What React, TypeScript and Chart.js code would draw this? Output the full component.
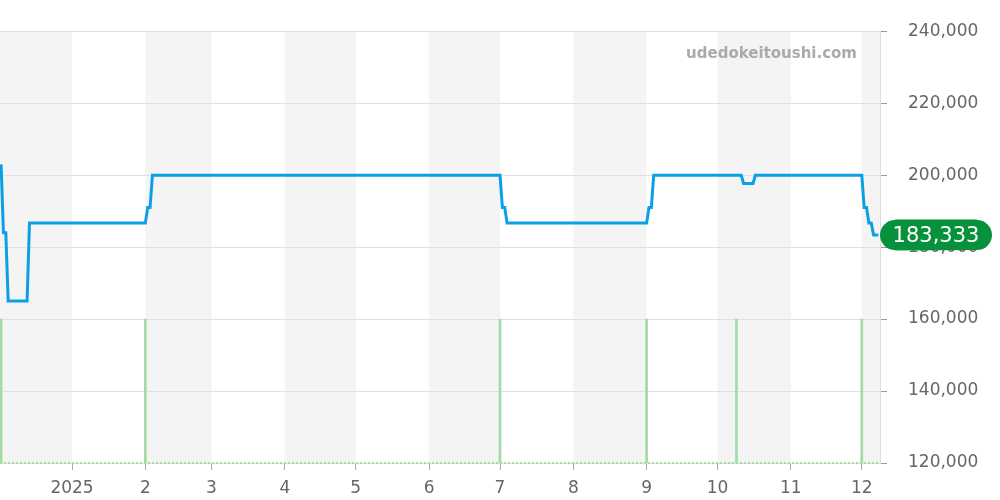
import React, { useEffect, useRef } from "react";
import { Chart, registerables } from "chart.js";

Chart.register(...registerables);

// ---- data ----
const priceDates = [
  "2024-12-02", "2024-12-03", "2024-12-04", "2024-12-05", "2024-12-13", "2024-12-14",
  "2025-02-01", "2025-02-02", "2025-02-03", "2025-02-04",
  "2025-07-01", "2025-07-02", "2025-07-03", "2025-07-04",
  "2025-09-01", "2025-09-02", "2025-09-03", "2025-09-04",
  "2025-10-11", "2025-10-12", "2025-10-16", "2025-10-17",
  "2025-12-01", "2025-12-02", "2025-12-03", "2025-12-04", "2025-12-05", "2025-12-06", "2025-12-08",
];
const priceValues = [
  203000, 184000, 184000, 165000, 165000, 186667,
  186667, 191000, 191000, 200000,
  200000, 191000, 191000, 186667,
  186667, 191000, 191000, 200000,
  200000, 197667, 197667, 200000,
  200000, 191000, 191000, 186667, 186667, 183333, 183333,
];
const volumeDates = ["2024-12-02", "2025-02-01", "2025-07-01", "2025-09-01", "2025-10-09", "2025-12-01"];
const volumeValues = [1, 1, 1, 1, 1, 1];

const monthStartDates = [
  "2025-01-01", "2025-02-01", "2025-03-01", "2025-04-01", "2025-05-01", "2025-06-01",
  "2025-07-01", "2025-08-01", "2025-09-01", "2025-10-01", "2025-11-01", "2025-12-01",
];
const monthLabels = ["2025", "2", "3", "4", "5", "6", "7", "8", "9", "10", "11", "12"];
const bandStartDates = ["2024-12-01", "2025-02-01", "2025-04-01", "2025-06-01", "2025-08-01", "2025-10-01", "2025-12-01"];
const bandEndDates = ["2025-01-01", "2025-03-01", "2025-05-01", "2025-07-01", "2025-09-01", "2025-11-01", "2026-01-01"];
const yTicks = [120000, 140000, 160000, 180000, 200000, 220000, 240000];
const rangeStart = "2024-12-01T13:00:00";
const rangeEnd = "2025-12-08T16:48:00";
const watermark = "udedokeitoushi.com";

const EPOCH = Date.UTC(2025, 0, 1);
const toDay = (s: string) => {
  const [d, t] = s.split("T");
  const [y, m, dd] = d.split("-").map(Number);
  let ms = Date.UTC(y, m - 1, dd);
  if (t) {
    const [hh, mm] = t.split(":").map(Number);
    ms += (hh * 60 + mm) * 60000;
  }
  return (ms - EPOCH) / 86400000;
};

const FONT = "'DejaVu Sans', sans-serif";

export default function App() {
  const ref = useRef<HTMLCanvasElement | null>(null);

  useEffect(() => {
    if (!ref.current) return;
    const xMin = toDay(rangeStart);
    const xMax = toDay(rangeEnd);
    const monthTicks = monthStartDates.map(toDay);
    const lastValue = priceValues[priceValues.length - 1];

    const bandsPlugin = {
      id: "bands",
      beforeDraw(chart: any) {
        const { ctx, chartArea, scales } = chart;
        const x = scales.x;
        ctx.save();
        ctx.fillStyle = "#f4f4f4";
        bandStartDates.forEach((s, i) => {
          const a = Math.max(x.getPixelForValue(toDay(s)), chartArea.left);
          const b = Math.min(x.getPixelForValue(toDay(bandEndDates[i])), chartArea.right);
          if (b > a) ctx.fillRect(a, chartArea.top, b - a, chartArea.bottom - chartArea.top);
        });
        ctx.restore();
      },
      beforeDatasetsDraw(chart: any) {
        const { ctx, chartArea } = chart;
        ctx.save();
        ctx.font = `bold 15px ${FONT}`;
        ctx.fillStyle = "#aaaaaa";
        ctx.textAlign = "right";
        ctx.textBaseline = "middle";
        ctx.fillText(watermark, chartArea.right - 23, chartArea.top + 23);
        ctx.restore();
      },
      afterDraw(chart: any) {
        const { ctx, chartArea, scales } = chart;
        const y = scales.y.getPixelForValue(lastValue);
        const left = chartArea.right;
        const w = 112;
        const h = 31;
        const r = 15;
        ctx.save();
        ctx.fillStyle = "#08913d";
        ctx.beginPath();
        ctx.moveTo(left + r, y - h / 2);
        ctx.lineTo(left + w - r, y - h / 2);
        ctx.arc(left + w - r, y, r, -Math.PI / 2, Math.PI / 2);
        ctx.lineTo(left + r, y + h / 2);
        ctx.arc(left + r, y, r, Math.PI / 2, Math.PI * 1.5);
        ctx.closePath();
        ctx.fill();
        ctx.fillStyle = "#ffffff";
        ctx.font = `21px ${FONT}`;
        ctx.textAlign = "center";
        ctx.textBaseline = "middle";
        ctx.fillText(lastValue.toLocaleString("en-US"), left + w / 2, y + 1);
        ctx.restore();
      },
    };

    const chart = new Chart(ref.current, {
      type: "line",
      data: {
        datasets: [
          {
            type: "line",
            data: priceDates.map((d, i) => ({ x: toDay(d), y: priceValues[i] })),
            borderColor: "#0ba0e5",
            borderWidth: 3,
            pointRadius: 0,
            tension: 0,
            yAxisID: "y",
            order: 0,
          } as any,
          {
            type: "bar",
            data: volumeDates.map((d, i) => ({ x: toDay(d), y: volumeValues[i] })),
            backgroundColor: "#a3dba3",
            barThickness: 2,
            yAxisID: "y2",
            order: 1,
          } as any,
          {
            type: "line",
            data: [
              { x: xMin, y: 0 },
              { x: xMax, y: 0 },
            ],
            borderColor: "#a3dba3",
            borderWidth: 2,
            borderDash: [2, 2],
            pointRadius: 0,
            yAxisID: "y2",
            clip: false,
            order: 2,
          } as any,
        ],
      },
      options: {
        animation: false,
        responsive: true,
        maintainAspectRatio: false,
        layout: { padding: { top: 30, left: 0, right: 0, bottom: 0 } },
        plugins: { legend: { display: false }, tooltip: { enabled: false } },
        scales: {
          x: {
            type: "linear",
            min: xMin,
            max: xMax,
            offset: false,
            afterBuildTicks: (scale: any) => {
              scale.ticks = monthTicks.map((v) => ({ value: v }));
            },
            afterFit: (scale: any) => {
              scale.height = 37;
            },
            ticks: {
              autoSkip: false,
              maxRotation: 0,
              padding: 8,
              color: "#666666",
              font: { family: FONT, size: 17 },
              callback: (v: any) => {
                const i = monthTicks.indexOf(Number(v));
                return i >= 0 ? monthLabels[i] : "";
              },
            },
            grid: { offset: false, drawOnChartArea: false, drawTicks: true, tickLength: 7, color: "#aaaaaa" },
            border: { display: false },
          },
          y: {
            type: "linear",
            position: "right",
            min: 120000,
            max: 240000,
            afterBuildTicks: (scale: any) => {
              scale.ticks = yTicks.map((v) => ({ value: v }));
            },
            afterFit: (scale: any) => {
              scale.width = 120;
            },
            ticks: {
              padding: 21,
              color: "#666666",
              font: { family: FONT, size: 17 },
              callback: (v: any) => Number(v).toLocaleString("en-US"),
            },
            grid: { color: "#e0e0e0", tickLength: 7, tickColor: "#999999" },
            border: { display: true, color: "#dddddd" },
          },
          y2: {
            type: "linear",
            display: false,
            min: 0,
            max: 3,
          },
        },
      } as any,
      plugins: [bandsPlugin],
    });
    return () => chart.destroy();
  }, []);

  return (
    <div style={{ position: "absolute", left: 0, top: 0, width: 1000, height: 500, background: "#fff" }}>
      <canvas ref={ref} />
    </div>
  );
}
